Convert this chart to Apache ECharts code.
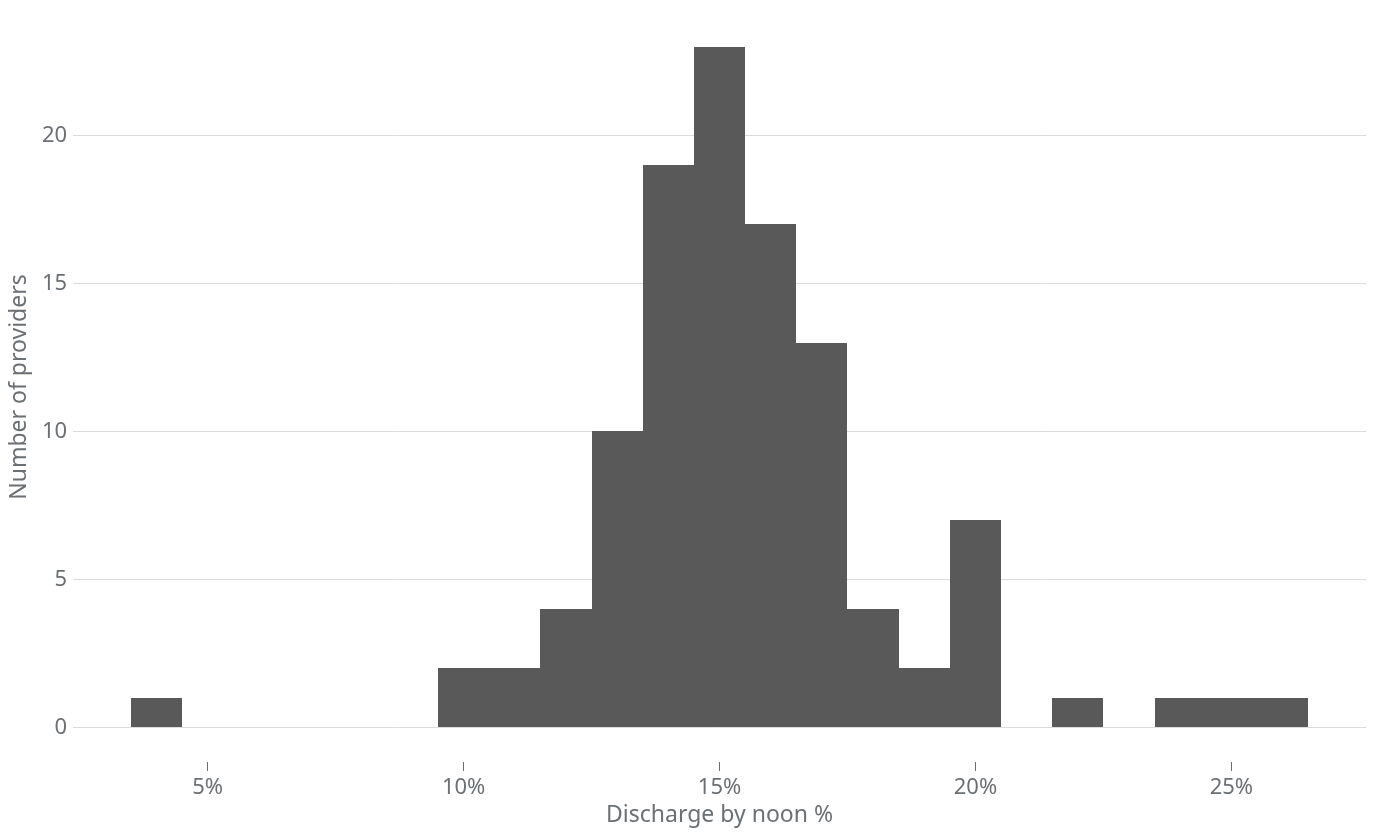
<!DOCTYPE html>
<html>
<head>
<meta charset="utf-8">
<title>Discharge by noon</title>
<script src="https://cdn.jsdelivr.net/npm/echarts@6/dist/echarts.min.js"></script>
<style>
  html, body { margin: 0; padding: 0; background: #fff; }
  #chart { width: 1379px; height: 840px; }
</style>
</head>
<body>
<div id="chart"></div>
<script>
// histogram bins (1 percentage point wide), centre of each bin
var binCenters = [4, 10, 11, 12, 13, 14, 15, 16, 17, 18, 19, 20, 22, 24, 25, 26];
var counts = [1, 2, 2, 4, 10, 19, 23, 17, 13, 4, 2, 7, 1, 1, 1, 1];
var binWidth = 1;
var xTicks = [5, 10, 15, 20, 25];
var yTicks = [0, 5, 10, 15, 20];

var textColor = '#6b7075';
var fontFamily = '"Noto Sans", "Open Sans", sans-serif';

var chart = echarts.init(document.getElementById('chart'));

var data = binCenters.map(function (c, i) {
    return [c - binWidth / 2, c + binWidth / 2, counts[i]];
});

chart.setOption({
    animation: false,
    textStyle: { fontFamily: fontFamily },
    grid: { left: 72, right: 13, top: 14, bottom: 80 },
    xAxis: {
        type: 'value',
        min: 2.37,
        max: 27.63,
        offset: 2,
        name: 'Discharge by noon %',
        nameLocation: 'middle',
        nameGap: 42,
        nameTextStyle: { color: textColor, fontSize: 23 },
        axisLine: { show: false, onZero: false },
        axisTick: {
            show: true,
            length: 9,
            customValues: xTicks,
            lineStyle: { color: textColor, width: 1 }
        },
        axisLabel: {
            customValues: xTicks,
            color: textColor,
            fontSize: 22,
            margin: 15,
            formatter: function (v) { return v + '%'; }
        },
        splitLine: { show: false }
    },
    yAxis: {
        type: 'value',
        min: -1.1,
        max: 24.1,
        name: 'Number of providers',
        nameLocation: 'middle',
        nameGap: 35,
        nameTextStyle: { color: textColor, fontSize: 23 },
        axisLine: { show: false },
        axisTick: { show: false },
        axisLabel: {
            customValues: yTicks,
            color: textColor,
            fontSize: 22,
            margin: 6
        },
        splitLine: {
            show: false
        }
    },
    series: [
        {
            type: 'custom',
            renderItem: function (params, api) {
                var p0 = api.coord([api.value(0), api.value(2)]);
                var p1 = api.coord([api.value(1), 0]);
                // snap to whole pixels so neighbouring bins join without seams
                var x0 = Math.round(p0[0]), x1 = Math.round(p1[0]);
                var y0 = Math.round(p0[1]), y1 = Math.round(p1[1]);
                return {
                    type: 'rect',
                    shape: { x: x0, y: y0, width: x1 - x0, height: y1 - y0 },
                    style: { fill: '#595959' }
                };
            },
            encode: { x: [0, 1], y: 2 },
            data: data,
            z: 5
        },
        {
            // horizontal grid lines at the y ticks
            type: 'line',
            data: [],
            silent: true,
            z: 1,
            markLine: {
                symbol: 'none',
                silent: true,
                z: 1,
                label: { show: false },
                lineStyle: { color: '#dcdcdc', width: 1, type: 'solid' },
                data: yTicks.map(function (v) { return { yAxis: v }; })
            }
        }
    ]
});
</script>
</body>
</html>
